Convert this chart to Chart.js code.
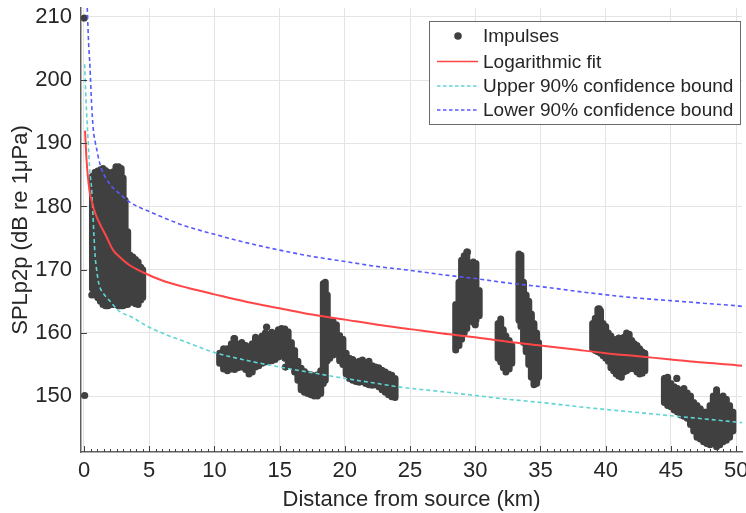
<!DOCTYPE html>
<html>
<head>
<meta charset="utf-8">
<script src="https://cdn.jsdelivr.net/npm/chart.js@4/dist/chart.umd.min.js"></script>
<style>
  html, body { margin: 0; padding: 0; background: #fff; }
  canvas { display: block; }
</style>
</head>
<body>
<canvas id="chart" width="746" height="513"></canvas>
<script>
// axis ticks
const xTicks = [0, 5, 10, 15, 20, 25, 30, 35, 40, 45, 50];
const yTicks = [150, 160, 170, 180, 190, 200, 210];

// single impulses
const impX = [0.02, 0.05, 0.6, 1.1, 11.5, 14.0, 15.45, 29.4, 30.0, 39.5, 44.55, 45.45];
const impY = [209.8, 150.1, 166.0, 165.6, 159.1, 160.9, 154.6, 172.8, 161.3, 163.8, 152.8, 152.8];

// dense impulse columns: distance, lowest and highest value of each column
const bandX = [
  0.65, 0.85, 1.05, 1.25, 1.45, 1.65, 1.85, 2.05, 2.25, 2.45, 2.65, 2.85, 3.0, 3.15, 3.35, 3.55, 3.75, 3.95, 4.15, 4.35, 4.5,
  10.4, 10.7, 11.0, 11.3, 11.55, 11.8, 12.1, 12.4, 12.65, 12.9, 13.15, 13.4, 13.65, 13.9, 14.15, 14.4, 14.65, 14.9, 15.15, 15.4,
  15.65, 15.9, 16.15, 16.4, 16.65, 16.9, 17.15, 17.4, 17.65, 17.9, 18.15, 18.35, 18.5, 18.65, 18.85, 19.1, 19.35, 19.6, 19.85,
  20.1, 20.35, 20.6, 20.85, 21.1, 21.35, 21.6, 21.85, 22.1, 22.35, 22.6, 22.85, 23.1, 23.35, 23.6, 23.85,
  28.5, 28.75, 28.95, 29.15, 29.35, 29.6, 29.85, 30.05, 30.3,
  31.75, 31.95, 32.15, 32.35, 32.6, 32.8,
  33.35, 33.5, 33.7, 33.9, 34.1, 34.3, 34.5, 34.7, 34.85,
  39.0, 39.2, 39.4, 39.6, 39.8, 40.0, 40.2, 40.4, 40.6, 40.8, 41.0, 41.2, 41.4, 41.6, 41.8, 42.0, 42.2, 42.4, 42.6, 42.8, 43.0,
  44.5, 44.75, 45.0, 45.25, 45.5, 45.75, 46.0, 46.25, 46.5, 46.75, 47.0, 47.25, 47.5, 47.75, 48.0, 48.25, 48.5, 48.75, 49.0,
  49.25, 49.5, 49.75
];
const bandLo = [
  167, 166, 165.6, 165, 164.5, 164.3, 164.3, 164.5, 164.5, 164.5, 164.3, 164.3, 164.3, 164.5, 164.5, 164.8, 165, 164.6, 164.5, 165.2, 165.6,
  155.2, 154.3, 154.0, 154.3, 154.2, 154.5, 154.6, 154.2, 153.5, 153.8, 154.6, 154.8, 155.2, 155.4, 155.5, 155.6, 155.8, 156.2, 156.4, 156.0,
  155.5, 154.8, 153.8, 152.5, 151.0, 150.6, 150.4, 150.2, 150.0, 150.0, 150.4, 152.0, 152.5, 155.6, 156.0, 156.5, 156.8, 155.6, 155.0,
  153.5, 152.8, 152.5, 152.3, 152.2, 152.3, 152.0, 151.8, 151.7, 151.8, 151.5, 151.0, 150.6, 150.2, 149.9, 149.8,
  157.3, 158, 159, 160, 160.7, 162.3, 161.7, 162, 162.7,
  156.0, 155.4, 154.5, 153.8, 154.3, 155.2,
  162, 161, 158.5, 157, 155, 153, 151.8, 152, 153,
  157.5, 157.2, 157, 156.8, 156.4, 156, 155.5, 154.5, 154, 153.5, 153.2, 153, 153.8, 154, 154.3, 154.5, 154.3, 153.8, 153.5, 153.6, 154,
  149, 148.5, 148.3, 147.8, 147.5, 147, 146.8, 146.5, 145.5, 144.5, 143.5, 143.2, 142.8, 142.5, 142.3, 142.5, 142, 142.3, 142.8,
  143, 143.5, 144.5
];
const bandHi = [
  184.8, 185.4, 185.6, 185.8, 186, 185.7, 185.4, 184.6, 185.5, 186.3, 186.3, 186, 184.5, 181, 176, 172.3, 172, 171.6, 171.2, 170.4, 170,
  156.8, 157.5, 157.5, 158.3, 159.1, 158.2, 158.5, 158.0, 157.7, 158.3, 159.3, 158.8, 159.5, 160.0, 159.8, 160.1, 159.8, 160.5, 160.7, 160.6,
  160.2, 158.5, 157.2, 155.5, 154.4, 153.9, 153.5, 153.4, 153.2, 153.4, 154.0, 167.8, 168.0, 166.0, 161.0, 161.8, 161.3, 159.6, 159.0,
  156.8, 156.0, 155.8, 155.4, 155.5, 155.7, 155.3, 155.5, 154.8, 154.6, 154.5, 154.1, 153.8, 153.5, 153.3, 152.8,
  164.5, 168, 171.5, 172.2, 172.8, 169.6, 171.2, 171, 166.7,
  161.5, 162.2, 160.5, 159.5, 158.8, 158.0,
  172.5, 172.3, 168, 166, 165, 163, 161.5, 160, 158.5,
  161.5, 162.3, 163.8, 163.5, 161.5, 161, 160, 159.5, 159, 158.8, 159.2, 158.7, 159.3, 160, 159.8, 158.8, 158.3, 158, 157.5, 157, 156.8,
  152.8, 153, 152, 151.5, 151.2, 150.8, 151.2, 150.5, 150, 149, 148.5, 148, 147.5, 147.5, 148.5, 150, 151, 149.5, 150,
  149.5, 148.5, 147.5
];

// logarithmic fit
const fitX = [0.08, 0.2, 0.32, 0.46, 0.58, 0.8, 1, 1.3, 1.7, 2.23, 2.8, 3.5, 4.5, 6, 8, 10, 12.5, 15, 17.5, 20, 22.5, 25, 27.5, 30, 32.5, 35, 37.5, 40, 42.5, 45, 47.5, 50, 50.45];
const fitY = [192, 187.2, 184.3, 182, 181, 179.3, 178.2, 176.9, 175.3, 173.1, 171.9, 170.7, 169.6, 168.3, 167.1, 166.1, 164.9, 163.9, 162.9, 162.1, 161.3, 160.6, 159.9, 159.3, 158.6, 158, 157.4, 156.8, 156.3, 155.8, 155.3, 154.9, 154.8];

// "Upper 90% confidence bound" (cyan)
const upX = [0.05, 0.15, 0.3, 0.45, 0.58, 0.68, 0.76, 0.84, 0.95, 1.09, 1.22, 1.5, 2, 2.6, 3.75, 5, 6.2, 7.5, 10, 12.6, 15, 17.5, 20, 22.5, 24, 27.9, 30, 32.5, 35, 38.5, 42.5, 45, 47.5, 50, 50.45];
const upY = [202.5, 197, 191, 185.5, 183, 179, 175.5, 172.5, 170.3, 168.3, 167.2, 166.2, 165, 163.6, 162.4, 160.9, 159.8, 158.8, 156.9, 155.6, 154.6, 153.7, 152.8, 152.0, 151.5, 150.6, 150.1, 149.5, 149.0, 148.2, 147.4, 146.9, 146.4, 145.9, 145.8];

// "Lower 90% confidence bound" (blue)
const lowX = [0.25, 0.35, 0.46, 0.58, 0.71, 0.85, 0.97, 1.15, 1.35, 1.7, 2.2, 2.8, 3.3, 4, 5, 5.8, 7.5, 10, 12.6, 15, 17.5, 20, 22.5, 25, 27.5, 30, 32.5, 35.5, 38.5, 42, 45, 47.5, 50, 50.45];
const lowY = [211.4, 206, 202, 196.4, 192.2, 190.3, 189.1, 187.3, 185.9, 184.4, 183, 181.9, 181.0, 180.1, 179.2, 178.5, 177.1, 175.6, 174.2, 173.1, 172.1, 171.3, 170.5, 169.9, 169.2, 168.6, 167.9, 167.2, 166.4, 165.6, 165.1, 164.7, 164.3, 164.2];

const legendLabels = ['Impulses', 'Logarithmic fit', 'Upper 90% confidence bound', 'Lower 90% confidence bound'];

const dotColor = '#404040';
const fitColor = '#ff4545';
const upColor = '#5fd4d4';
const lowColor = '#5858ff';
const textColor = '#262626';
const fontFamily = "'Liberation Sans', Arial, Helvetica, sans-serif";

Chart.defaults.font.family = fontFamily;
Chart.defaults.color = textColor;

const pts = (xs, ys) => xs.map((x, i) => ({ x: x, y: ys[i] }));

// each column becomes its own short segment (null breaks the line)
const bandData = [];
bandX.forEach((x, i) => {
    bandData.push({ x: x, y: bandLo[i] }, { x: x, y: bandHi[i] }, { x: x, y: null });
});

// minor ticks on the x axis, major ticks on y, and the boxed legend
const overlay = {
    id: 'overlay',
    afterDraw(chart) {
        const ctx = chart.ctx;
        const xs = chart.scales.x, ys = chart.scales.y, a = chart.chartArea;
        ctx.save();
        ctx.strokeStyle = '#404040';
        ctx.lineWidth = 1;
        ctx.beginPath();
        for (let k = 0; k <= 100; k++) {
            const px = Math.round(xs.getPixelForValue(k / 2)) + 0.5;
            const len = k % 10 === 0 ? 6 : 3;
            ctx.moveTo(px, a.bottom);
            ctx.lineTo(px, a.bottom - len);
        }
        yTicks.forEach(v => {
            const py = Math.round(ys.getPixelForValue(v)) + 0.5;
            ctx.moveTo(a.left, py);
            ctx.lineTo(a.left + 6, py);
        });
        ctx.stroke();

        // legend
        const bx = 429.5, by = 21.5, bw = 311, bh = 103;
        ctx.fillStyle = '#fff';
        ctx.fillRect(bx, by, bw, bh);
        ctx.strokeStyle = '#6a6a6a';
        ctx.lineWidth = 1;
        ctx.strokeRect(bx, by, bw, bh);

        const rows = [36, 61.5, 86, 110];
        const x0 = 437, x1 = 478;
        // dot
        ctx.fillStyle = dotColor;
        ctx.beginPath();
        ctx.arc(458, rows[0], 3.8, 0, Math.PI * 2);
        ctx.fill();
        // fit line
        ctx.strokeStyle = fitColor;
        ctx.lineWidth = 1.5;
        ctx.beginPath();
        ctx.moveTo(x0, rows[1]); ctx.lineTo(x1, rows[1]);
        ctx.stroke();
        // dashed bounds
        ctx.setLineDash([3.5, 2.5]);
        ctx.strokeStyle = upColor;
        ctx.beginPath();
        ctx.moveTo(x0, rows[2]); ctx.lineTo(x1, rows[2]);
        ctx.stroke();
        ctx.strokeStyle = lowColor;
        ctx.beginPath();
        ctx.moveTo(x0, rows[3]); ctx.lineTo(x1, rows[3]);
        ctx.stroke();
        ctx.setLineDash([]);

        ctx.fillStyle = textColor;
        ctx.font = '19px ' + fontFamily;
        ctx.textBaseline = 'middle';
        ctx.textAlign = 'left';
        legendLabels.forEach((t, i) => ctx.fillText(t, 483, rows[i] + 1));
        ctx.restore();
    }
};

new Chart(document.getElementById('chart'), {
    type: 'scatter',
    data: {
        datasets: [
            {
                label: legendLabels[1],
                data: pts(fitX, fitY),
                showLine: true,
                borderColor: fitColor,
                borderWidth: 2,
                pointRadius: 0,
                cubicInterpolationMode: 'monotone',
                order: 1
            },
            {
                label: legendLabels[2],
                data: pts(upX, upY),
                showLine: true,
                borderColor: upColor,
                borderWidth: 1.6,
                borderDash: [4, 3],
                pointRadius: 0,
                cubicInterpolationMode: 'monotone',
                order: 2
            },
            {
                label: legendLabels[3],
                data: pts(lowX, lowY),
                showLine: true,
                borderColor: lowColor,
                borderWidth: 1.6,
                borderDash: [4, 3],
                pointRadius: 0,
                cubicInterpolationMode: 'monotone',
                order: 3
            },
            {
                label: legendLabels[0],
                data: pts(impX, impY),
                backgroundColor: dotColor,
                borderWidth: 0,
                pointRadius: 3.6,
                order: 4
            },
            {
                label: 'Impulse columns',
                data: bandData,
                showLine: true,
                spanGaps: false,
                borderColor: dotColor,
                borderWidth: 7,
                borderCapStyle: 'round',
                borderJoinStyle: 'round',
                pointRadius: 0,
                order: 5
            }
        ]
    },
    options: {
        responsive: false,
        animation: false,
        devicePixelRatio: 1,
        layout: { padding: { top: 8, right: 0, bottom: 0, left: 0 } },
        plugins: {
            legend: { display: false },
            tooltip: { enabled: false }
        },
        scales: {
            x: {
                type: 'linear',
                min: -0.23,
                max: 50.45,
                afterBuildTicks: s => { s.ticks = xTicks.map(v => ({ value: v })); },
                afterFit: s => { s.height = 61; s.paddingLeft = 0; s.paddingRight = 0; },
                grid: { color: '#e4e4e4', drawTicks: false },
                border: { color: '#606060', width: 1.5 },
                ticks: { font: { size: 22 }, color: textColor, padding: 6, maxRotation: 0 },
                title: {
                    display: true,
                    text: 'Distance from source (km)',
                    font: { size: 22 },
                    color: textColor,
                    padding: { top: 0, bottom: 0 }
                }
            },
            y: {
                type: 'linear',
                min: 141.16,
                max: 211.4,
                afterBuildTicks: s => { s.ticks = yTicks.map(v => ({ value: v })); },
                afterFit: s => { s.width = 81; s.paddingTop = 0; s.paddingBottom = 0; },
                grid: { color: '#e4e4e4', drawTicks: false },
                border: { color: '#606060', width: 1.5 },
                ticks: { font: { size: 22 }, color: textColor, padding: 9 },
                title: {
                    display: true,
                    text: 'SPLp2p (dB re 1μPa)',
                    font: { size: 22 },
                    color: textColor,
                    padding: { top: 8, bottom: 0 }
                }
            }
        }
    },
    plugins: [overlay]
});
</script>
</body>
</html>
